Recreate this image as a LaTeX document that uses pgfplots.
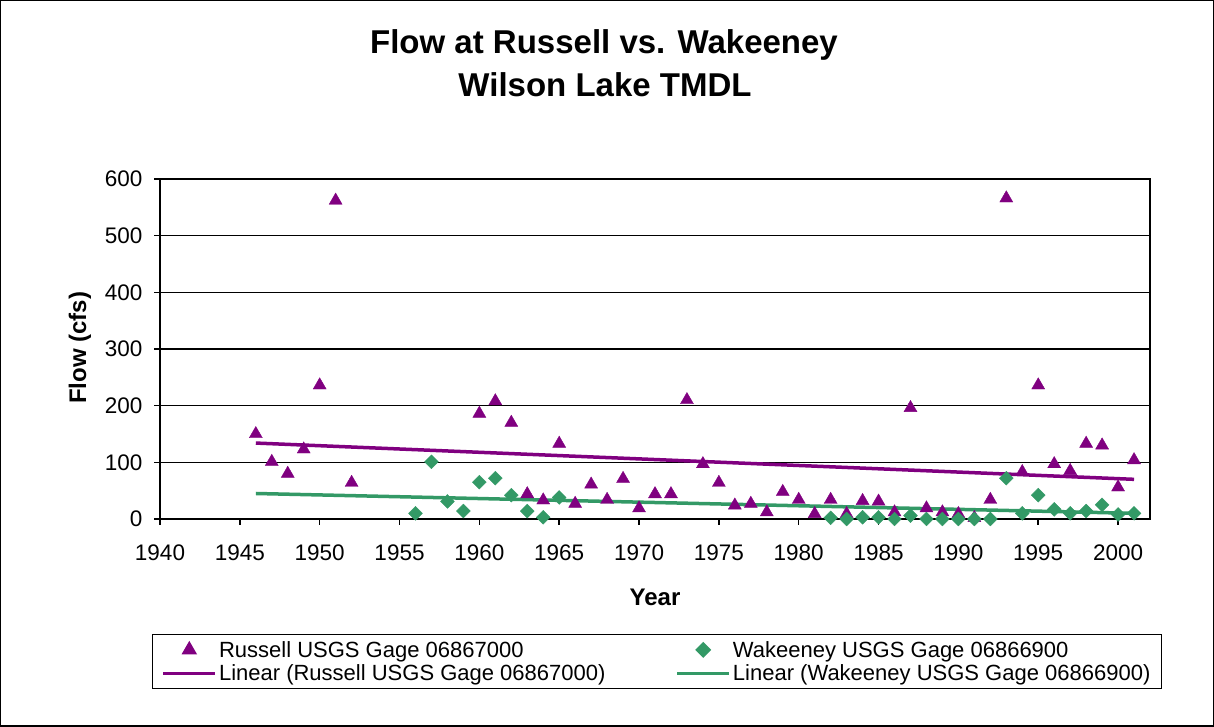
\documentclass[border=0pt]{standalone}
\usepackage{pgfplots}
\pgfplotsset{compat=1.18}
\usepackage{fontspec}
\setmainfont{Liberation Sans}
\definecolor{rpurple}{RGB}{128,0,128}
\definecolor{wgreen}{RGB}{51,153,102}
\begin{document}
\begin{tikzpicture}[x=1bp,y=1bp]
\useasboundingbox (0,0) rectangle (1214,727);
\draw[line width=1.5bp] (0.75,0.75) rectangle (1213.25,726.25);
\node[font=\fontsize{33bp}{38bp}\selectfont\bfseries, anchor=base] at (604,673) {Flow at Russell vs. Wakeeney};
\node[font=\fontsize{33bp}{38bp}\selectfont\bfseries, anchor=base] at (605,630) {Wilson Lake TMDL};
\begin{axis}[
  at={(160bp,208bp)}, anchor=south west,
  scale only axis, width=990bp, height=340bp,
  xmin=1940, xmax=2002, ymin=0, ymax=600,
  xtick={1940,1945,...,2000}, ytick={0,100,...,600},
  xtick pos=bottom, ytick pos=left,
  tick align=outside, major tick length=6bp,
  tick style={black, line width=1.5bp},
  axis line style={line width=2.5bp},
  ymajorgrids, major grid style={black, line width=1.3bp},
  ticklabel style={font=\fontsize{22.5bp}{26bp}\selectfont},
  /pgf/number format/assume math mode=true,
  xticklabel style={/pgf/number format/1000 sep={}, anchor=base, yshift=-36bp},
  yticklabel style={anchor=east, xshift=-8bp},
  xlabel={Year}, ylabel={Flow (cfs)},
  xlabel style={font=\fontsize{24bp}{28bp}\selectfont\bfseries, at={(axis description cs:0.5,-0.2294)}, anchor=center},
  ylabel style={font=\fontsize{24bp}{28bp}\selectfont\bfseries, at={(axis description cs:-0.0808,0.503)}, anchor=center},
  legend columns=2,
  legend style={at={(0.502,-0.338)}, anchor=north, draw=black, line width=1.5bp,
    font=\fontsize{22bp}{23bp}\selectfont, inner xsep=9bp, inner ysep=4.5bp, row sep=2bp,
    /tikz/every even column/.append style={column sep=68bp}},
  legend cell align=left,
  clip=false,
]
\addplot[only marks, mark=triangle*, mark size=7.5bp, color=rpurple,
  legend image code/.code={\draw[mark repeat=2,mark phase=2] plot coordinates {(0bp,0bp) (26bp,0bp) (52bp,0bp)};}]
coordinates {
(1946,150)(1947,101)(1948,80)(1949,123)(1950,236)(1951,562)(1952,64)
(1960,186)(1961,208)(1962,170)(1963,44)(1964,33)(1965,133)(1966,27)
(1967,61)(1968,34)(1969,71)(1970,19)(1971,44)(1972,44)(1973,210)
(1974,97)(1975,64)(1976,24)(1977,27)(1978,12)(1979,48)(1980,34)
(1981,9)(1982,34)(1983,9)(1984,32)(1985,31)(1986,12)(1987,196)
(1988,19)(1989,12)(1990,9)(1991,2)(1992,34)(1993,566)(1994,83)
(1995,236)(1996,97)(1997,85)(1998,133)(1999,130)(2000,56)(2001,104)
};
\addlegendentry{Russell USGS Gage 06867000}
\addplot[only marks, mark=square*, mark size=4.9bp, color=wgreen,
  mark options={rotate=45},
  legend image code/.code={\draw[mark repeat=2,mark phase=2] plot coordinates {(0bp,0bp) (26bp,0bp) (52bp,0bp)};}]
coordinates {
(1956,10)(1957,101)(1958,31)(1959,14)(1960,65)(1961,72)(1962,42)
(1963,14)(1964,3)(1965,38)(1982,2)(1983,0)(1984,3)(1985,3)(1986,0)
(1987,6)(1988,0)(1989,0)(1990,0)(1991,0)(1992,0)(1993,72)(1994,10)
(1995,42)(1996,17)(1997,10)(1998,14)(1999,25)(2000,8)(2001,10)
};
\addlegendentry{Wakeeney USGS Gage 06866900}
\addplot[no marks, color=rpurple, line width=3.5bp,
  legend image code/.code={\draw (0bp,0bp) -- (52bp,0bp);}]
coordinates {(1946,134)(2001,70)};
\addlegendentry{Linear (Russell USGS Gage 06867000)}
\addplot[no marks, color=wgreen, line width=3.5bp,
  legend image code/.code={\draw (0bp,0bp) -- (52bp,0bp);}]
coordinates {(1946,45)(2001,10)};
\addlegendentry{Linear (Wakeeney USGS Gage 06866900)}
\end{axis}
\end{tikzpicture}
\end{document}
